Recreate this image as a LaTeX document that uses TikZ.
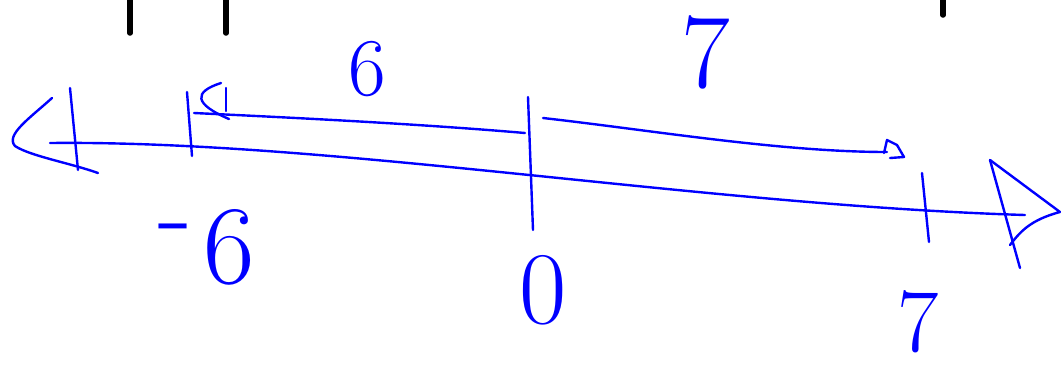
\documentclass[tikz,border=0pt]{standalone}
\usetikzlibrary{positioning}
\definecolor{pen}{RGB}{0,0,255}

\begin{document}
\begin{tikzpicture}[x=1pt, y=-1pt,
  ink/.style={draw=pen,line width=2.4pt,line cap=round,line join=round},
  blackbar/.style={draw=black,line width=5.5pt,line cap=round},
  digit/.style={text=pen,inner sep=0pt,font=\fontsize{#1}{#1}\selectfont}]
    \useasboundingbox (0,0) rectangle (1061,376);
    % black marks cut at the top edge
    \foreach \x/\len in {130/33,226/33,943/15}{
      \draw[blackbar] (\x,-6) -- (\x,\len);
    }
    % number line
    \coordinate (lineL) at (50,143);
    \coordinate (lineR) at (1025,215);
    \draw[ink] (lineL) .. controls (330,140) and (700,205) .. (lineR);
    \draw[ink] (52,98) .. controls (30,118) and (5,135) .. (15,146)
               .. controls (30,156) and (70,163) .. (98,173);
    \draw[ink] (990,160) -- (1020,268);
    \draw[ink] (990,160) -- (1060,212) .. controls (1030,220) and (1020,232) .. (1010,245);
    % ticks
    \foreach \x/\top/\xb/\bot/\name in {70/88/78/170/tNegSeven,187/92/192/156/tNegSix,
                                       528/97/533/230/tZero,922/173/929/242/tSeven}{
      \draw[ink] (\x,\top) -- (\xb,\bot);
    }
    % jump arrows
    \coordinate (jumpA) at (194,113);
    \coordinate (jumpB) at (525,133);
    \coordinate (jumpC) at (543,118);
    \coordinate (jumpD) at (887,152);
    \draw[ink] (jumpA) .. controls (300,118) and (420,124) .. (jumpB);
    \draw[ink] (221,83) .. controls (193,92) and (194,104) .. (229,119);
    \draw[ink] (226,88) -- (226,111);
    \draw[ink] (jumpC) .. controls (650,130) and (780,152) .. (jumpD);
    \draw[ink] (884,153) -- (887,140) -- (897,145) -- (904,157) -- (890,158);
    % labels
    \node[digit=82] (jumpSix) at (367,69) {6};
    \node[digit=106] (jumpSeven) at (706,52) {7};
    \node[digit=112, anchor=west] (lblNegSix) at (158,247) {\raisebox{.29em}{-}\kern.1em 6};
    \node[digit=103] (lblZero) at (543,290) {0};
    \node[digit=90] (lblSeven) at (918,322) {7};
\end{tikzpicture}
\end{document}
